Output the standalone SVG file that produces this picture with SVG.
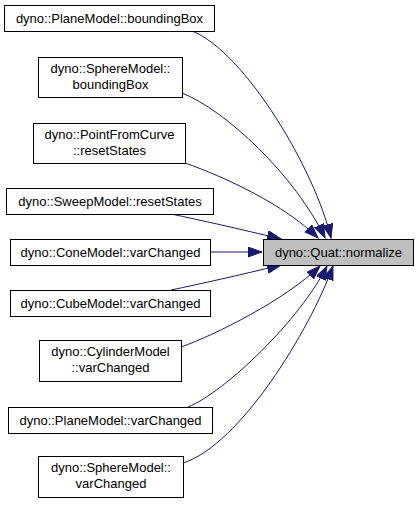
<svg xmlns="http://www.w3.org/2000/svg" width="419" height="505" viewBox="0 0 419 505">
<style>
.box{fill:#ffffff;stroke:#000000;stroke-width:1}
.target{fill:#bfbfbf;stroke:#000000;stroke-width:1}
text{font-family:"Liberation Sans",Arial,sans-serif;font-size:13px;fill:#000000;text-anchor:middle}
.edge{fill:none;stroke:#191970;stroke-width:1}
</style>
<defs>
<marker id="arr" markerUnits="userSpaceOnUse" markerWidth="16" markerHeight="12" refX="14" refY="5" orient="auto">
<path d="M0,0 L14,5 L0,10 z" fill="#191970" stroke="#191970" stroke-width="1"/>
</marker>
</defs>
<g id="connectors">
<path class="edge" marker-end="url(#arr)" d="M192,31 C245,52 315,170 331,238"/>
<path class="edge" marker-end="url(#arr)" d="M182,93 C225,110 295,175 325,238"/>
<path class="edge" marker-end="url(#arr)" d="M185,163 C225,177 285,205 318,238"/>
<path class="edge" marker-end="url(#arr)" d="M171,214 C200,220 240,229 281,239"/>
<path class="edge" marker-end="url(#arr)" d="M210,252 L262,252"/>
<path class="edge" marker-end="url(#arr)" d="M171,290 C200,284 240,275 281,265"/>
<path class="edge" marker-end="url(#arr)" d="M181,347 C215,335 285,300 320,266"/>
<path class="edge" marker-end="url(#arr)" d="M188,407 C225,392 300,320 327,266"/>
<path class="edge" marker-end="url(#arr)" d="M183,463 C240,445 310,330 333,266"/>
</g>
<g id="target">
<rect class="target" x="263.5" y="239.5" width="150" height="26"/>
<text x="338.5" y="257">dyno::Quat::normalize</text>
</g>
<g id="n1">
<rect class="box" x="4.5" y="5.5" width="210" height="26"/>
<text x="109.5" y="23">dyno::PlaneModel::boundingBox</text>
</g>
<g id="n2">
<rect class="box" x="38.5" y="57.5" width="144" height="40"/>
<text x="110.5" y="73">dyno::SphereModel::</text>
<text x="110.5" y="89">boundingBox</text>
</g>
<g id="n3">
<rect class="box" x="33.5" y="123.5" width="152" height="40"/>
<text x="109.5" y="139">dyno::PointFromCurve</text>
<text x="109.5" y="155">::resetStates</text>
</g>
<g id="n4">
<rect class="box" x="6.5" y="188.5" width="207" height="26"/>
<text x="110" y="206">dyno::SweepModel::resetStates</text>
</g>
<g id="n5">
<rect class="box" x="10.5" y="239.5" width="200" height="26"/>
<text x="110.5" y="257">dyno::ConeModel::varChanged</text>
</g>
<g id="n6">
<rect class="box" x="10.5" y="290.5" width="200" height="26"/>
<text x="110.5" y="308">dyno::CubeModel::varChanged</text>
</g>
<g id="n7">
<rect class="box" x="39.5" y="340.5" width="142" height="41"/>
<text x="110.5" y="356">dyno::CylinderModel</text>
<text x="110.5" y="372">::varChanged</text>
</g>
<g id="n8">
<rect class="box" x="8.5" y="407.5" width="204" height="26"/>
<text x="110.5" y="425">dyno::PlaneModel::varChanged</text>
</g>
<g id="n9">
<rect class="box" x="38.5" y="456.5" width="145" height="41"/>
<text x="111" y="472">dyno::SphereModel::</text>
<text x="111" y="488">varChanged</text>
</g>
</svg>
